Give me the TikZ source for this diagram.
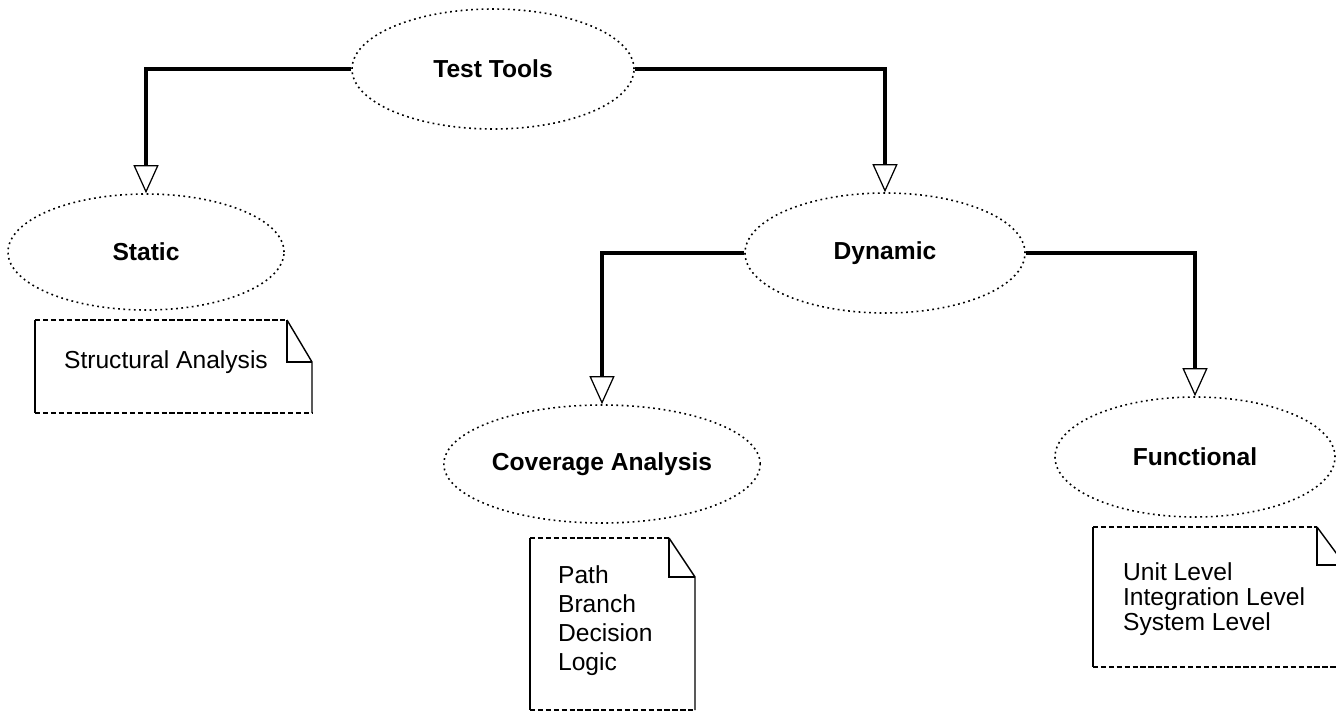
\documentclass[tikz,border=0pt]{standalone}
\usepackage{fontspec}
\setmainfont{Liberation Sans}
\usetikzlibrary{shapes.geometric,arrows.meta}

% dog-eared note: x1 y1 x2 y2 fold-width fold-height
\newcommand{\notepaper}[6]{%
	\draw[noteside] (#1,#2) -- (#1,#4);
	\draw[noteside] (#3-#5,#2) -- (#3,#2+#6) -- (#3,#4);
	\draw[noteside] (#3-#5,#2) -- (#3-#5,#2+#6) -- (#3,#2+#6);
	\draw[noteedge] (#1,#2) -- (#3-#5,#2);
	\draw[noteedge] (#1,#4) -- (#3,#4);
}

\begin{document}
\begin{tikzpicture}[x=0.2mm, y=-0.2mm, inner sep=1pt]
		\tikzstyle{every node}=[align=left, font=\fontsize{14}{17}\selectfont]
		\tikzstyle{tool}=[ellipse, draw, line width=0.9pt, dash pattern=on 1pt off 2pt, font=\fontsize{14}{17}\selectfont\bfseries]
		\tikzstyle{branch}=[line width=1.8pt, -{Triangle[open, length=5.6mm, width=5mm, line width=0.7pt]}]
		\tikzstyle{noteside}=[line width=0.8pt]
		\tikzstyle{noteedge}=[line width=0.8pt, dash pattern=on 3pt off 1.5pt]
		\clip (0,0) rectangle (1336,712);

			\node[tool, minimum width=56.4mm, minimum height=24mm] (tools) at (493,69) {Test Tools};
			\node[tool, minimum width=55.2mm, minimum height=23.2mm] (static) at (146,252) {Static};
			\node[tool, minimum width=56mm, minimum height=24mm] (dynamic) at (885,253) {Dynamic};
			\node[tool, minimum width=55.2mm, minimum height=23.6mm] (coverage) at (602,464) {Coverage Analysis};
			\node[tool, minimum width=56mm, minimum height=24mm] (functional) at (1195,457) {Functional};

			\draw[branch] (tools.west) -| (static.north);
			\draw[branch] (tools.east) -| (dynamic.north);
			\draw[branch] (dynamic.west) -| (coverage.north);
			\draw[branch] (dynamic.east) -| (functional.north);

			\notepaper{35}{320}{312}{413}{25}{42}
			\notepaper{530}{538}{695}{710}{26}{39}
			\notepaper{1093}{527}{1345}{667}{28}{38}

			\node[anchor=base west] (structural) at (62,368) {Structural Analysis};
			\node[anchor=north west, font=\fontsize{14}{16.5}\selectfont] (coverlist) at (556,564) {Path\\Branch\\Decision\\Logic};
			\node[anchor=north west, font=\fontsize{14}{14.2}\selectfont] (levels) at (1121,561) {Unit Level\\Integration Level\\System Level};
		\end{tikzpicture}
\end{document}
